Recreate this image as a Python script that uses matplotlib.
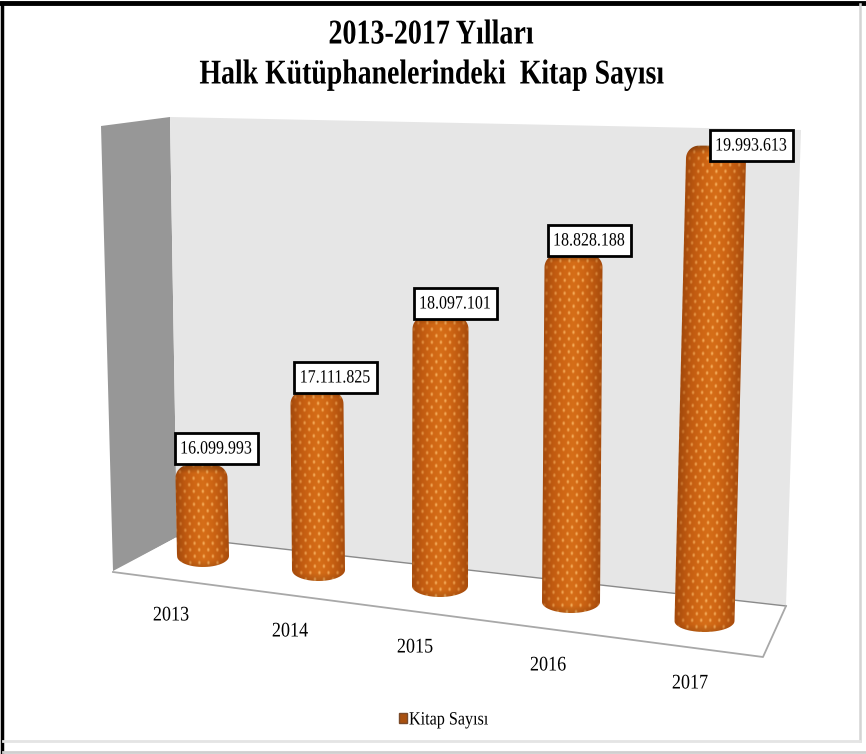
import numpy as np
import matplotlib
matplotlib.use('Agg')
import matplotlib.pyplot as plt
import matplotlib.patheffects as pe
from matplotlib.colors import LinearSegmentedColormap
from matplotlib.patches import Polygon, Rectangle, Patch, PathPatch
from matplotlib.path import Path
from matplotlib.transforms import Affine2D

plt.rcParams['font.family'] = ['Liberation Serif', 'DejaVu Serif']

# Data
years = ['2013', '2014', '2015', '2016', '2017']
books = [16099993, 17111825, 18097101, 18828188, 19993613]
series_name = 'Kitap Sayısı'
title_lines = ['2013-2017 Yılları', 'Halk Kütüphanelerindeki  Kitap Sayısı']

# The picture is a fake 3D chart, so every bar has its own floor point and scale
axis_min = 15000000
floor_y = [567, 581, 597, 613, 632]
px_per_book = [92.7e-6, 90.0e-6, 90.7e-6, 93.7e-6, 97.4e-6]
top_center = [201.5, 317, 440.5, 573.5, 716]
bottom_center = [203, 318.5, 440, 571, 704.5]
bar_width = [52, 53, 56, 58, 60]
label_center = [(216, 448), (335, 377), (455, 303), (589, 240), (751, 145)]
year_pos = [(171, 616), (290, 632), (415, 648), (548, 666), (690, 684)]

W, H = 866, 754
fig = plt.figure(figsize=(W / 100, H / 100), dpi=100, facecolor='white')
ax = fig.add_axes([0, 0, 1, 1])
ax.axis('off')


class Squeeze(pe.AbstractPathEffect):
    # the reference text is horizontally condensed, no installed font does that
    def __init__(self, text_obj, sx):
        super().__init__()
        self.text_obj = text_obj
        self.sx = sx

    def draw_path(self, renderer, gc, tpath, affine, rgbFace=None):
        box = self.text_obj.get_window_extent(renderer)
        cx = 0.5 * (box.x0 + box.x1)
        squeeze = Affine2D().translate(-cx, 0).scale(self.sx, 1).translate(cx, 0)
        renderer.draw_path(gc, tpath, affine + squeeze, rgbFace)


def condensed(text_obj, sx):
    text_obj.set_path_effects([Squeeze(text_obj, sx)])
    return text_obj


# Walls and floor
ax.add_patch(Polygon([(101, 126), (170, 117), (177, 537), (113, 571)], fc='#979797', ec='none', zorder=1))
ax.add_patch(Polygon([(170, 117), (801, 130), (786, 606), (177, 537)], fc='#e6e6e6', ec='none', zorder=1))
ax.add_patch(Polygon([(113, 572), (177, 537), (786, 606), (763, 657)], fc='white', ec='none', zorder=2))
ax.plot([177, 786], [537, 606], color='#8a8a8a', lw=1.0, zorder=2)
ax.plot([113, 763, 786], [572, 657, 606], color='#a8a8a8', lw=1.3, zorder=2)

orange = LinearSegmentedColormap.from_list('bar', ['#a44a0c', '#c05a10', '#cf6614', '#d66e18', '#cf6614', '#bd5910', '#a44a0c'])


def bar_texture(xs, ys, top, bottom, cx_top, cx_bot, w):
    X, Y = np.meshgrid(xs, ys)
    frac = (Y - top) / (bottom - top)
    cx = cx_top + (cx_bot - cx_top) * frac
    u = (X - cx) / w + 0.5
    rgb = orange(np.clip(u, 0, 1))[..., :3]
    # staggered light dots
    dx, dy = 9.0, 6.5
    row = np.round((Y - top) / dy)
    col = np.round(((X - cx) / dx) - 0.5 * (row % 2))
    px = (col + 0.5 * (row % 2)) * dx + cx
    py = row * dy + top
    d = np.hypot((X - px) / 1.3, (Y - py) / 2.0)
    dot = np.clip(1.3 - d, 0, 1) * (0.3 + 0.6 * np.sin(np.pi * np.clip(u, 0, 1)))
    rgb = rgb + (np.array([0.98, 0.72, 0.40]) - rgb) * dot[..., None]
    # darker cap and bottom rim
    cap = np.clip(1 - (Y - top) / 8, 0, 1)[..., None]
    rgb = rgb * (1 - 0.30 * cap)
    rim = np.clip(1 - (bottom - Y) / 8, 0, 1)[..., None]
    rgb = rgb * (1 - 0.15 * rim)
    return np.clip(rgb, 0, 1)


def bar_outline(top, bottom, cx_top, cx_bot, w):
    r = 13.0
    t = np.linspace(0, np.pi / 2, 14)
    left = cx_top - w / 2
    right = cx_top + w / 2
    pts = [(left + r - r * np.cos(a), top + r - r * np.sin(a)) for a in t]
    pts += [(right - r + r * np.sin(a), top + r - r * np.cos(a)) for a in t]
    b = np.linspace(0, np.pi, 30)
    pts += [(cx_bot + w / 2 * np.cos(a), bottom - 11 + 11 * np.sin(a)) for a in b]
    return Path(pts + [pts[0]], closed=True)


for i, value in enumerate(books):
    bottom = floor_y[i]
    top = bottom - (value - axis_min) * px_per_book[i]
    w = bar_width[i]
    x0 = min(top_center[i], bottom_center[i]) - w / 2 - 2
    x1 = max(top_center[i], bottom_center[i]) + w / 2 + 2
    xs = np.arange(x0, x1, 0.5)
    ys = np.arange(top - 2, bottom + 2, 0.5)
    img = bar_texture(xs, ys, top, bottom, top_center[i], bottom_center[i], w)
    im = ax.imshow(img, extent=(x0, x1, bottom + 2, top - 2), aspect='auto', zorder=3, interpolation='bilinear')
    clip = PathPatch(bar_outline(top, bottom, top_center[i], bottom_center[i], w), transform=ax.transData, fc='none', ec='none')
    ax.add_patch(clip)
    im.set_clip_path(clip)

    # value label
    lx, ly = label_center[i]
    ax.add_patch(Rectangle((lx - 41.5, ly - 15.5), 83, 31, fc='white', ec='black', lw=2.0, zorder=4))
    condensed(ax.text(lx, ly + 1, f'{value:,}'.replace(',', '.'), ha='center', va='center', fontsize=13.5,
                      color='black', zorder=5), 0.85)

    # year label
    condensed(ax.text(year_pos[i][0], year_pos[i][1], years[i], ha='center', va='center', fontsize=15,
                      color='black'), 0.87)

# Title
condensed(ax.text(431, 35, title_lines[0], ha='center', va='center', fontsize=25, fontweight='bold'), 0.807)
condensed(ax.text(432, 75, title_lines[1], ha='center', va='center', fontsize=25, fontweight='bold'), 0.80)

# Legend
handle = Patch(facecolor='#a9500f', edgecolor='#7a4a2a', label=series_name)
leg = ax.legend(handles=[handle], loc='center', bbox_to_anchor=(447 / W, 1 - 720 / H), frameon=False,
                fontsize=13.5, handlelength=0.42, handleheight=0.5, handletextpad=-0.24, borderpad=0)
condensed(leg.get_texts()[0], 0.86)

# Frame around the picture
ax.plot([1.5, 1.5], [3, 754], color='black', lw=2.5, zorder=6)
ax.plot([0, 866], [3, 3], color='black', lw=3.5, zorder=6)
ax.plot([859.5, 859.5], [4, 741], color='#d4d4d4', lw=1.8, zorder=6)
ax.plot([3, 860], [741, 741], color='#e4e4e4', lw=2, zorder=6)
ax.plot([3, 866], [752, 752], color='#cfcfcf', lw=2, zorder=6)

ax.set_xlim(0, W)
ax.set_ylim(H, 0)
fig.savefig('out.png', dpi=100)
